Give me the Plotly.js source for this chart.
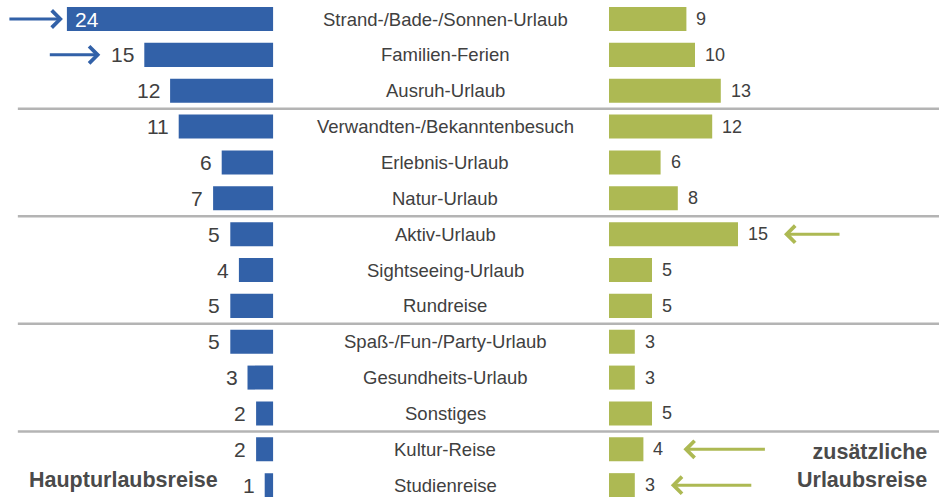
<!DOCTYPE html>
<html>
<head>
<meta charset="utf-8">
<script src="https://cdn.plot.ly/plotly-3.0.1.min.js"></script>
<style>
html,body{margin:0;padding:0;background:#fff;}
#chart{width:939px;height:497px;}
</style>
</head>
<body>
<div id="chart"></div>
<script>
const categories = ['Strand-/Bade-/Sonnen-Urlaub','Familien-Ferien','Ausruh-Urlaub','Verwandten-/Bekanntenbesuch','Erlebnis-Urlaub','Natur-Urlaub','Aktiv-Urlaub','Sightseeing-Urlaub','Rundreise','Spaß-/Fun-/Party-Urlaub','Gesundheits-Urlaub','Sonstiges','Kultur-Reise','Studienreise'];
const hauptValues = [24,15,12,11,6,7,5,4,5,5,3,2,2,1];
const zusatzValues = [9,10,13,12,6,8,15,5,5,3,3,5,4,3];
const hauptLabel = 'Haupturlaubsreise';
const zusatzLabel = 'zusätzliche<br>Urlaubsreise';
const groupBreaks = [2.5, 5.5, 8.5, 11.5];
const hauptHighlight = [0, 1];
const zusatzHighlight = [6, 12, 13];

const BLUE = '#3261a8';
const GREEN = '#adb953';
const TXT = '#404040';
const FONT = '"Liberation Sans", Arial, sans-serif';

const traces = [
  {type:'bar', orientation:'h', y:categories, x:hauptValues, xaxis:'x', yaxis:'y',
   marker:{color:BLUE}, width:0.67, hoverinfo:'none'},
  {type:'bar', orientation:'h', y:categories, x:zusatzValues, xaxis:'x2', yaxis:'y',
   marker:{color:GREEN}, width:0.67, hoverinfo:'none'}
];

const annotations = [];
categories.forEach((c,i)=>{
  annotations.push({xref:'paper', x:0.474, y:c, yref:'y', text:c, showarrow:false,
    xanchor:'center', font:{family:FONT, size:18.5, color:TXT}});
  const hv = hauptValues[i];
  if (i === 0) {
    annotations.push({xref:'x', x:hv, y:c, yref:'y', text:String(hv), showarrow:false,
      xanchor:'left', xshift:6, font:{family:FONT, size:21, color:'#ffffff'}});
  } else {
    annotations.push({xref:'x', x:hv, y:c, yref:'y', text:String(hv), showarrow:false,
      xanchor:'right', xshift:-8, font:{family:FONT, size:21, color:TXT}});
  }
  const zv = zusatzValues[i];
  annotations.push({xref:'x2', x:zv, y:c, yref:'y', text:String(zv), showarrow:false,
    xanchor:'left', xshift:8, font:{family:FONT, size:18, color:TXT}});
});

// highlight arrows
const hauptArrow = {0:{standoff:4, ax:-59}, 1:{standoff:44, ax:-96}};
hauptHighlight.forEach(i=>{
  annotations.push({xref:'x', yref:'y', x:hauptValues[i], y:categories[i], text:'',
    showarrow:true, arrowhead:4, arrowsize:1.1, arrowwidth:3, arrowcolor:BLUE,
    standoff:hauptArrow[i].standoff, ax:hauptArrow[i].ax, ay:0});
});
const zusatzArrow = {6:{standoff:46, ax:103}, 12:{standoff:40, ax:123}, 13:{standoff:36, ax:118}};
zusatzHighlight.forEach(i=>{
  annotations.push({xref:'x2', yref:'y', x:zusatzValues[i], y:categories[i], text:'',
    showarrow:true, arrowhead:4, arrowsize:1.1, arrowwidth:3, arrowcolor:GREEN,
    standoff:zusatzArrow[i].standoff, ax:zusatzArrow[i].ax, ay:0});
});

annotations.push({xref:'paper', yref:'paper', x:0.029, y:(497-480)/497, text:'<b>'+hauptLabel+'</b>',
  showarrow:false, xanchor:'left', yanchor:'middle', font:{family:FONT, size:21.5, color:'#4a4a4a'}});
annotations.push({xref:'paper', yref:'paper', x:0.989, y:(497-466)/497, text:'<b>'+zusatzLabel+'</b>',
  showarrow:false, xanchor:'right', yanchor:'middle', align:'right', font:{family:FONT, size:21.5, color:'#4a4a4a'}});

const shapes = groupBreaks.map(b=>({type:'line', xref:'paper', yref:'y', x0:0.019, x1:1, y0:b, y1:b,
  line:{color:'#b4b4b4', width:2.5}, layer:'below'}));

const layout = {
  width:939, height:497, margin:{l:0,r:0,t:0,b:0},
  paper_bgcolor:'#ffffff', plot_bgcolor:'rgba(0,0,0,0)',
  showlegend:false, barmode:'overlay',
  font:{family:FONT, color:TXT},
  xaxis:{domain:[0, 273.3/939], range:[273.3/8.6, 0], visible:false, fixedrange:true},
  xaxis2:{domain:[609/939, 1], range:[0, 330/8.6], visible:false, anchor:'y', fixedrange:true},
  yaxis:{type:'category', range:[13.33, -0.53], visible:false, fixedrange:true},
  annotations:annotations, shapes:shapes
};

Plotly.newPlot('chart', traces, layout, {displayModeBar:false, staticPlot:true});
</script>
</body>
</html>
